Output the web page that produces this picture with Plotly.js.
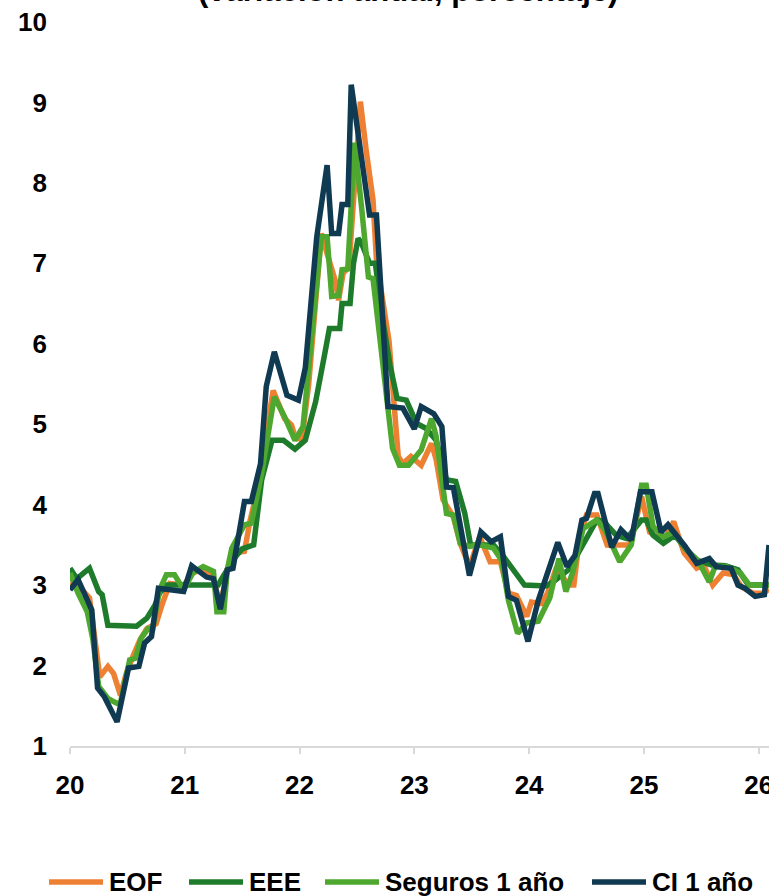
<!DOCTYPE html>
<html>
<head>
<meta charset="utf-8">
<script src="https://cdn.plot.ly/plotly-3.0.1.min.js"></script>
<style>
  html, body { margin: 0; padding: 0; background: #ffffff; }
  #chart { width: 769px; height: 896px; }
</style>
</head>
<body>
<div id="chart"></div>
<script>
// Series names and colours
const seriesNames = ["EOF", "EEE", "Seguros 1 año", "CI 1 año"];
const seriesColors = ["#EE8033", "#1E7B2C", "#4EA72E", "#0F3A52"];
const chartTitle = "(variación anual, porcentaje)";
const yTickVals = [1, 2, 3, 4, 5, 6, 7, 8, 9, 10];
const xTickVals = [20, 21, 22, 23, 24, 25, 26];

// EOF (x in years since 2000, value in %)
const eofX = [20.00,20.08,20.17,20.26,20.33,20.38,20.44,20.49,20.55,20.61,20.67,20.75,20.81,20.87,20.99,21.07,21.16,21.25,21.31,21.37,21.42,21.52,21.57,21.66,21.70,21.77,21.87,21.93,21.96,22.02,22.08,22.14,22.19,22.24,22.31,22.34,22.38,22.43,22.53,22.58,22.64,22.67,22.78,22.86,22.90,22.97,23.06,23.15,23.19,23.25,23.34,23.40,23.48,23.57,23.66,23.75,23.82,23.89,23.98,24.02,24.11,24.16,24.24,24.34,24.39,24.44,24.50,24.59,24.68,24.76,24.88,24.98,25.05,25.17,25.26,25.35,25.46,25.52,25.60,25.69,25.78,25.85,25.95,26.04,26.09];
const eofY = [3.02,2.98,2.84,1.86,1.99,1.90,1.63,1.90,2.12,2.32,2.46,2.52,2.79,3.02,3.00,3.15,3.20,3.08,2.73,3.19,3.40,3.42,3.81,4.35,4.80,5.42,5.07,4.99,4.85,4.80,5.50,6.60,7.37,7.12,6.79,6.54,6.88,6.95,9.01,8.41,7.79,7.04,6.03,4.60,4.51,4.60,4.49,4.76,4.56,4.06,3.85,3.52,3.23,3.60,3.29,3.29,2.90,2.87,2.61,2.79,2.77,2.90,3.23,3.00,3.00,3.60,3.87,3.87,3.50,3.50,3.50,4.10,3.66,3.54,3.79,3.40,3.21,3.25,3.00,3.15,3.13,2.98,2.90,2.90,2.95];

// EEE
const eeeX = [20.00,20.06,20.17,20.25,20.28,20.33,20.58,20.67,20.74,20.78,20.84,21.29,21.33,21.44,21.50,21.60,21.67,21.76,21.86,21.96,22.05,22.14,22.22,22.26,22.35,22.37,22.44,22.47,22.51,22.54,22.61,22.66,22.73,22.79,22.85,22.93,23.02,23.10,23.19,23.28,23.36,23.44,23.49,23.69,23.77,23.86,23.96,24.15,24.22,24.35,24.44,24.52,24.59,24.65,24.76,24.85,24.98,25.02,25.08,25.17,25.27,25.37,25.46,25.59,25.71,25.82,25.91,26.09];
const eeeY = [3.21,3.08,3.21,2.92,2.88,2.50,2.49,2.59,2.75,2.90,3.00,3.00,3.10,3.35,3.45,3.50,4.31,4.80,4.80,4.69,4.80,5.28,5.88,6.19,6.19,6.50,6.50,7.00,7.31,7.25,7.00,7.00,6.25,5.72,5.32,5.30,5.01,4.95,4.80,4.31,4.29,3.89,3.50,3.50,3.37,3.19,3.00,2.99,3.05,3.20,3.43,3.66,3.81,3.79,3.62,3.58,3.81,3.81,3.62,3.52,3.62,3.44,3.31,3.25,3.24,3.19,3.00,3.00];

// Seguros 1 año
const segX = [20.00,20.07,20.15,20.20,20.25,20.33,20.41,20.44,20.52,20.57,20.62,20.68,20.72,20.78,20.84,20.91,20.99,21.07,21.16,21.25,21.28,21.34,21.37,21.41,21.52,21.58,21.67,21.71,21.78,21.87,21.96,22.03,22.08,22.19,22.24,22.28,22.34,22.37,22.42,22.48,22.54,22.60,22.64,22.75,22.81,22.87,22.95,23.06,23.15,23.19,23.24,23.28,23.34,23.40,23.48,23.57,23.69,23.76,23.82,23.90,23.98,24.08,24.18,24.26,24.32,24.38,24.47,24.59,24.66,24.79,24.89,24.98,25.02,25.08,25.17,25.26,25.37,25.47,25.57,25.62,25.72,25.84,25.92,26.09];
const segY = [3.15,2.90,2.67,2.32,1.74,1.59,1.53,1.54,2.07,2.09,2.34,2.46,2.45,2.94,3.13,3.13,2.94,3.15,3.23,3.17,2.67,2.67,3.19,3.46,3.75,3.77,4.39,4.76,5.34,5.09,4.80,4.97,5.67,7.33,7.33,6.59,6.60,6.92,6.93,8.50,7.70,6.83,6.81,5.50,4.70,4.49,4.49,4.68,5.07,4.85,4.31,3.89,3.87,3.52,3.48,3.50,3.46,3.31,2.81,2.40,2.53,2.55,2.84,3.33,2.92,3.16,3.70,3.81,3.69,3.29,3.50,4.24,4.24,3.73,3.60,3.66,3.44,3.31,3.04,3.23,3.23,3.15,3.00,3.00];

// CI 1 año
const ciX = [20.00,20.07,20.19,20.24,20.30,20.41,20.51,20.60,20.65,20.71,20.77,20.99,21.06,21.19,21.25,21.31,21.37,21.42,21.52,21.58,21.66,21.71,21.78,21.89,21.99,22.05,22.15,22.24,22.28,22.34,22.37,22.42,22.45,22.61,22.67,22.77,22.90,23.00,23.06,23.17,23.24,23.28,23.34,23.48,23.58,23.67,23.75,23.82,23.89,23.99,24.08,24.17,24.25,24.33,24.40,24.46,24.50,24.57,24.60,24.72,24.80,24.89,24.97,25.07,25.15,25.21,25.36,25.46,25.57,25.63,25.76,25.82,25.88,25.97,26.05,26.09];
const ciY = [2.94,3.07,2.69,1.72,1.61,1.30,1.97,1.99,2.28,2.36,2.96,2.92,3.24,3.10,3.08,2.70,3.19,3.21,4.04,4.04,4.51,5.47,5.90,5.36,5.30,5.70,7.33,8.22,7.37,7.37,7.73,7.73,9.22,7.60,7.60,5.22,5.20,4.94,5.22,5.13,4.97,4.22,4.21,3.12,3.66,3.54,3.60,2.86,2.81,2.30,2.81,3.19,3.53,3.23,3.37,3.81,3.83,4.14,4.14,3.47,3.69,3.56,4.16,4.16,3.66,3.75,3.48,3.27,3.33,3.23,3.21,3.00,2.96,2.86,2.88,3.50];

const xs = [eofX, eeeX, segX, ciX];
const ys = [eofY, eeeY, segY, ciY];

const FONT = "'Liberation Sans', Arial, sans-serif";
const LINE_W = 5.5;

const traces = seriesNames.map((name, i) => ({
  type: "scatter",
  mode: "lines",
  name: name,
  x: xs[i],
  y: ys[i],
  line: { color: seriesColors[i], width: LINE_W, shape: "linear" },
  hoverinfo: "skip",
  showlegend: false
}));

// Legend drawn below the plot (layout positions, pixels in the 769x896 page)
const plotLeft = 70, plotWidth = 699, plotBottom = 746, plotHeight = 724;
const legendLineStart = [49, 189, 325, 592];
const legendLineLen = 54;
const legendTextGap = 5;
const legendCenterY = 882;
const px2x = px => (px - plotLeft) / plotWidth;
const py2y = py => (plotBottom - py) / plotHeight;

const legendShapes = seriesNames.map((name, i) => ({
  type: "line",
  xref: "paper", yref: "paper",
  x0: px2x(legendLineStart[i]), x1: px2x(legendLineStart[i] + legendLineLen),
  y0: py2y(legendCenterY), y1: py2y(legendCenterY),
  line: { color: seriesColors[i], width: LINE_W }
}));

const legendTexts = seriesNames.map((name, i) => ({
  text: name,
  xref: "paper", yref: "paper",
  x: px2x(legendLineStart[i] + legendLineLen + legendTextGap),
  y: py2y(legendCenterY),
  xanchor: "left", yanchor: "middle",
  showarrow: false,
  borderpad: 0,
  font: { family: FONT, size: 26, color: "#000000", weight: "bold" }
}));

const layout = {
  width: 769,
  height: 896,
  margin: { l: 70, r: 0, t: 22, b: 150, pad: 0 },
  paper_bgcolor: "#ffffff",
  plot_bgcolor: "#ffffff",
  font: { family: FONT, size: 26, color: "#000000" },
  showlegend: false,
  xaxis: {
    range: [20, 26.09],
    tickvals: xTickVals,
    ticktext: xTickVals.map(String),
    showgrid: false,
    zeroline: false,
    showline: true,
    linecolor: "#D9D9D9",
    linewidth: 2,
    ticks: "outside",
    ticklen: 6,
    tickwidth: 2,
    tickcolor: "#D9D9D9",
    ticklabelstandoff: 9,
    ticklabeloverflow: "allow",
    tickfont: { family: FONT, size: 26, color: "#000000", weight: "bold" },
    fixedrange: true
  },
  yaxis: {
    range: [1, 10],
    tickvals: yTickVals,
    ticktext: yTickVals.map(String),
    showgrid: false,
    zeroline: false,
    showline: false,
    ticks: "",
    ticklabelstandoff: 22,
    tickfont: { family: FONT, size: 26, color: "#000000", weight: "bold" },
    fixedrange: true
  },
  shapes: legendShapes,
  annotations: [{
    text: chartTitle,
    xref: "paper", yref: "paper",
    x: 0.4835, y: 1,
    xanchor: "center", yanchor: "bottom",
    yshift: 12,
    showarrow: false,
    font: { family: FONT, size: 31, color: "#000000", weight: "bold" }
  }].concat(legendTexts)
};

Plotly.newPlot("chart", traces, layout, { staticPlot: true, displayModeBar: false });
</script>
</body>
</html>
